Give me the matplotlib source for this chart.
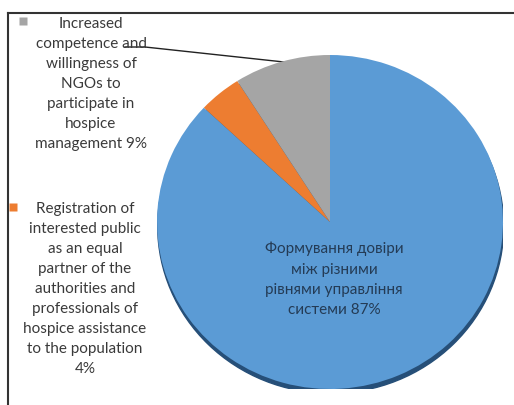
import matplotlib.pyplot as plt
from matplotlib.patches import Ellipse

plt.rcParams['font.family'] = ['Lato', 'DejaVu Sans']

# slices, clockwise from 12 o'clock
labels = ['Формування довіри\nміж різними\nрівнями управління\nсистеми 87%',
          'Registration of\ninterested public\nas an equal\npartner of the\nauthorities and\nprofessionals of\nhospice assistance\nto the population\n4%',
          'Increased\ncompetence and\nwillingness of\nNGOs to\nparticipate in\nhospice\nmanagement 9%']
values = [87, 4, 9]
colors = ['#5B9BD5', '#ED7D31', '#A5A5A5']

W, H = 514, 406
fig = plt.figure(figsize=(W / 100, H / 100), dpi=100)

# background axes in pixel units for frame, legend text and leader line
bg = fig.add_axes([0, 0, 1, 1])
bg.set_xlim(0, W)
bg.set_ylim(H, 0)
bg.axis('off')
bg.plot([8, W], [14, 14], color='#333333', lw=1.5)
bg.plot([8, 8], [14, H], color='#333333', lw=1.5)

txt_color = '#3a3a3a'
fs = 11
ls = 1.55
bg.plot(23, 22, marker='s', ms=6, color=colors[2], mec='none')
bg.text(91, 17, labels[2], ha='center', va='top', fontsize=fs,
        color=txt_color, linespacing=ls)
bg.plot(13, 208, marker='s', ms=6, color=colors[1], mec='none')
bg.text(85, 202, labels[1], ha='center', va='top', fontsize=fs,
        color=txt_color, linespacing=ls)

# leader line from gray label to its slice
bg.plot([125, 145, 284], [48, 48, 63], color='#222222', lw=1)

# pie axes
cx, cy, rx, ry = 330, 223, 173, 167
pa = fig.add_axes([(cx - rx) / W, 1 - (cy + ry) / H, 2 * rx / W, 2 * ry / H])
pa.add_patch(Ellipse((0.004, -0.026), 2, 2, color='#264f78', zorder=0))
pa.pie(values, colors=colors, startangle=90, counterclock=False,
       wedgeprops=dict(linewidth=0))
pa.set_aspect('auto')
pa.set_xlim(-1, 1)
pa.set_ylim(-1, 1)
pa.axis('off')

pa.text(334, 242, labels[0], ha='center', va='top', fontsize=fs,
        color='#243b55', linespacing=ls, transform=bg.transData)

fig.savefig('out.png', dpi=100)
